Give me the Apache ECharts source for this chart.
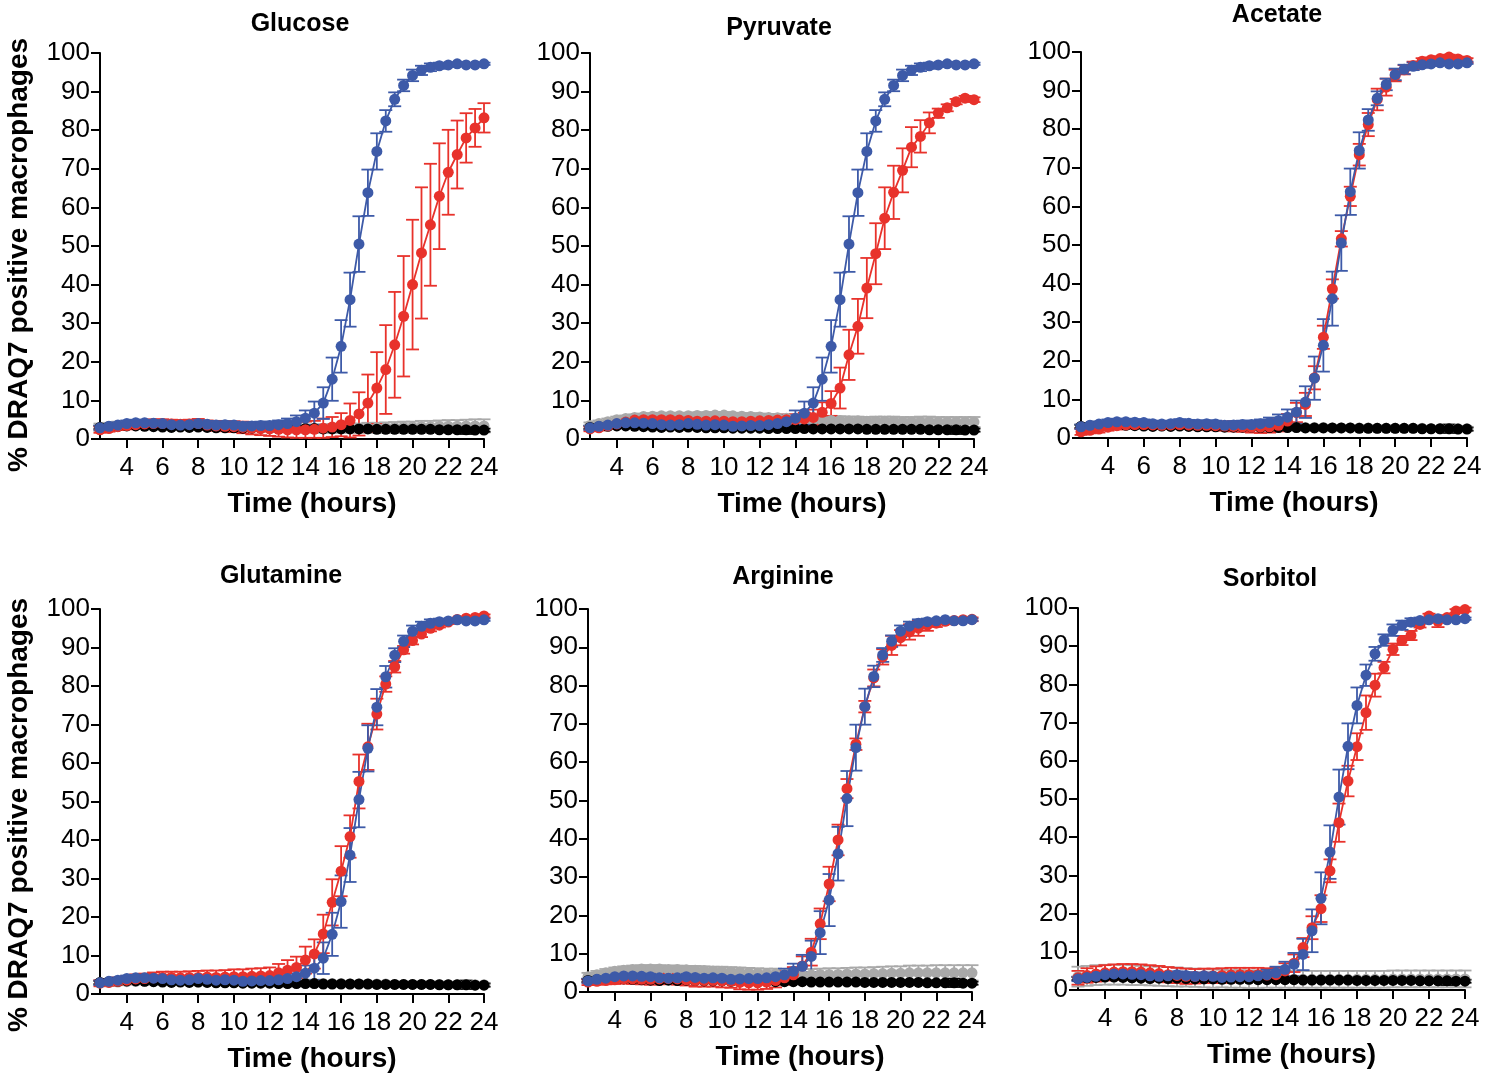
<!DOCTYPE html>
<html>
<head>
<meta charset="utf-8">
<script src="https://cdn.jsdelivr.net/npm/echarts@6/dist/echarts.min.js"></script>
<style>
html,body{margin:0;padding:0;background:#fff;}
#chart{width:1497px;height:1075px;}
</style>
</head>
<body>
<div id="chart"></div>
<script>
// ---------- DATA ----------
const TIMES = [2.5,3,3.5,4,4.5,5,5.5,6,6.5,7,7.5,8,8.5,9,9.5,10,10.5,11,11.5,12,12.5,13,13.5,14,14.5,15,15.5,16,16.5,17,17.5,18,18.5,19,19.5,20,20.5,21,21.5,22,22.5,23,23.5,24];
const X_TICKS = [4,6,8,10,12,14,16,18,20,22,24];
const PANEL_TITLES = ['Glucose','Pyruvate','Acetate','Glutamine','Arginine','Sorbitol'];

// shared controls (blue = with bacteria, black = uninfected)
const blueVals = [2.9,3.3,3.6,4.0,4.2,4.2,4.1,4.0,3.7,3.6,3.7,4.0,3.8,3.6,3.7,3.6,3.3,3.4,3.5,3.5,3.7,4.0,4.5,5.4,6.7,9.3,15.5,24.0,36.1,50.5,63.8,74.5,82.4,88.0,91.6,94.2,95.5,96.3,96.7,96.9,97.2,96.9,96.9,97.2];
const blueErr  = [0.6,0.6,0.7,0.8,0.8,0.8,0.8,0.8,0.8,0.8,0.8,0.9,0.9,0.9,0.9,0.9,0.9,1.0,1.0,1.0,1.1,1.3,1.6,2.0,3.0,4.1,5.6,6.8,7.0,7.2,6.0,4.7,2.8,1.8,1.5,1.5,1.2,1.0,0.8,0.5,0.4,0.3,0.3,0.3];
const blackVals = [3.0,3.2,3.3,3.4,3.4,3.3,3.2,3.1,3.0,3.1,3.0,3.1,3.0,2.9,2.9,2.9,2.8,2.8,2.8,2.8,2.7,2.7,2.7,2.7,2.7,2.6,2.6,2.6,2.6,2.6,2.6,2.5,2.5,2.5,2.5,2.5,2.5,2.5,2.4,2.4,2.4,2.4,2.3,2.3];
const blackErr  = [0.4,0.4,0.4,0.4,0.4,0.4,0.4,0.4,0.4,0.4,0.4,0.4,0.4,0.4,0.4,0.4,0.4,0.4,0.4,0.4,0.4,0.4,0.4,0.4,0.4,0.4,0.4,0.4,0.4,0.4,0.4,0.4,0.4,0.4,0.4,0.4,0.4,0.4,0.4,0.4,0.5,1.1,0.5,0.4];

// per-nutrient series (red = with nutrient, gray = nutrient uninfected)
const glucoseRed    = [2.4,2.7,3.2,3.5,3.7,3.9,4.0,4.0,3.9,3.8,3.9,4.0,3.6,3.4,3.3,3.2,3.0,2.8,2.7,2.6,2.5,2.4,2.4,2.4,2.5,2.8,3.1,3.7,4.8,6.5,9.3,13.2,18.0,24.4,31.8,40.0,48.2,55.5,62.9,69.1,73.7,78.0,80.6,83.2];
const glucoseRedErr = [0.8,0.8,0.9,1.0,1.0,1.0,1.1,1.1,1.1,1.1,1.1,1.2,1.2,1.3,1.3,1.4,1.5,1.6,1.7,1.8,1.9,2.0,2.1,2.1,2.2,2.5,2.6,3.0,4.4,5.6,7.4,9.3,11.5,13.7,15.6,16.8,17.0,15.8,13.7,11.0,8.8,6.4,4.9,3.8];
const glucoseGray    = [3.0,3.2,3.5,3.7,3.8,3.8,3.8,3.7,3.6,3.6,3.5,3.6,3.5,3.4,3.4,3.3,3.2,3.1,3.0,2.9,2.8,2.8,2.7,2.7,2.7,2.7,2.7,2.8,2.8,2.8,2.9,2.9,3.0,3.0,3.1,3.1,3.2,3.2,3.3,3.3,3.3,3.4,3.4,3.4];
const glucoseGrayErr = [1.0,1.0,1.0,1.0,1.0,1.0,1.0,1.0,1.0,1.0,1.0,1.0,1.0,1.0,1.0,1.0,1.0,1.0,1.0,1.0,1.0,1.0,1.0,1.0,1.0,1.1,1.1,1.2,1.2,1.2,1.3,1.3,1.3,1.4,1.4,1.4,1.5,1.5,1.5,1.6,1.6,1.6,1.7,1.7];

const pyruvateRed    = [2.6,2.9,3.4,3.9,4.4,4.9,5.0,5.0,5.0,5.0,4.9,4.8,4.6,4.6,4.7,4.6,4.5,4.5,4.6,4.7,4.8,4.9,5.0,5.0,5.2,5.6,6.9,9.2,13.2,21.8,29.2,39.1,48.0,57.2,63.9,69.6,75.6,78.4,81.9,84.4,85.8,87.4,88.3,87.9];
const pyruvateRedErr = [0.6,0.7,0.8,0.9,1.0,1.0,1.0,1.0,1.0,1.0,1.0,1.0,1.0,1.0,1.0,1.0,1.0,1.0,1.0,1.1,1.1,1.2,1.3,1.4,1.6,2.0,2.6,3.2,5.3,6.5,7.1,7.8,7.9,8.0,6.9,5.7,5.2,4.2,2.7,1.2,0.9,0.7,0.6,0.6];
const pyruvateGray    = [3.5,4.0,4.5,5.0,5.3,5.6,5.8,5.9,6.0,6.0,6.0,6.0,6.1,6.1,6.2,6.2,6.0,5.9,5.8,5.7,5.6,5.5,5.4,5.3,5.1,5.0,4.9,4.8,4.8,4.7,4.7,4.6,4.6,4.6,4.6,4.5,4.5,4.5,4.5,4.4,4.4,4.4,4.4,4.4];
const pyruvateGrayErr = [0.8,0.8,0.8,0.8,0.8,0.8,0.8,0.8,0.8,0.8,0.8,0.8,0.8,0.8,0.8,0.8,0.8,0.8,0.9,0.9,0.9,0.9,0.9,1.0,1.0,1.0,1.0,1.0,1.1,1.1,1.1,1.1,1.2,1.2,1.2,1.2,1.2,1.3,1.3,1.3,1.3,1.3,1.3,1.3];

const acetateRed    = [1.6,2.0,2.3,2.8,3.2,3.4,3.5,3.5,3.4,3.3,3.4,3.5,3.4,3.3,3.3,3.2,3.1,3.0,2.9,2.8,2.8,2.9,3.3,4.4,6.6,8.7,15.6,26.1,38.6,51.6,62.6,73.4,81.2,87.7,90.9,93.9,95.4,96.5,97.6,98.0,98.3,98.7,98.2,97.8];
const acetateRedErr = [0.8,0.8,0.9,0.9,1.0,1.0,1.0,1.0,1.0,1.0,1.0,1.0,1.1,1.1,1.1,1.2,1.2,1.3,1.3,1.4,1.5,1.5,1.6,1.8,2.5,3.0,3.0,3.0,2.5,2.0,2.5,2.8,3.0,2.8,2.2,1.5,1.2,1.0,0.8,0.6,0.6,0.6,0.6,0.6];
const acetateGray    = [3.0,3.1,3.2,3.3,3.4,3.4,3.4,3.3,3.3,3.2,3.2,3.2,3.1,3.1,3.1,3.0,3.0,3.0,2.9,2.9,2.9,2.8,2.8,2.8,2.7,2.7,2.7,2.7,2.6,2.6,2.6,2.6,2.6,2.5,2.5,2.5,2.5,2.5,2.5,2.4,2.4,2.4,2.4,2.4];
const acetateGrayErr = [0.5,0.5,0.5,0.5,0.5,0.5,0.5,0.5,0.5,0.5,0.5,0.5,0.5,0.5,0.5,0.5,0.5,0.5,0.5,0.5,0.5,0.5,0.5,0.5,0.5,0.5,0.5,0.5,0.5,0.5,0.5,0.5,0.5,0.5,0.5,0.5,0.5,0.5,0.5,0.5,0.5,0.5,0.5,0.5];

const glutamineRed    = [2.8,3.0,3.3,3.6,3.9,4.0,4.2,4.3,4.3,4.2,4.3,4.3,4.4,4.3,4.4,4.5,4.5,4.6,4.7,4.8,5.5,6.2,6.9,8.8,10.4,15.6,23.8,31.9,40.9,55.2,64.2,72.7,80.5,85.0,89.4,91.8,93.5,95.0,95.8,96.6,97.3,97.6,97.8,98.2];
const glutamineRedErr = [0.8,0.9,1.0,1.1,1.2,1.3,1.4,1.5,1.5,1.6,1.6,1.7,1.7,1.8,1.8,1.9,1.9,2.0,2.0,2.1,2.3,2.6,2.8,3.5,3.8,5.0,6.0,6.5,5.5,7.0,6.0,4.0,2.0,1.5,1.0,1.0,0.8,0.8,0.6,0.5,0.4,0.4,0.4,0.4];
const glutamineGray    = [2.9,3.0,3.1,3.2,3.3,3.3,3.3,3.3,3.2,3.2,3.2,3.1,3.1,3.1,3.0,3.0,3.0,2.9,2.9,2.9,2.8,2.8,2.8,2.8,2.7,2.7,2.7,2.7,2.6,2.6,2.6,2.6,2.6,2.5,2.5,2.5,2.5,2.5,2.5,2.4,2.4,2.4,2.4,2.4];
const glutamineGrayErr = [0.5,0.5,0.5,0.5,0.5,0.5,0.5,0.5,0.5,0.5,0.5,0.5,0.5,0.5,0.5,0.5,0.5,0.5,0.5,0.5,0.5,0.5,0.5,0.5,0.5,0.5,0.5,0.5,0.5,0.5,0.5,0.5,0.5,0.5,0.5,0.5,0.5,0.5,0.5,0.5,0.5,0.5,0.5,0.5];

const arginineRed    = [2.6,2.8,3.0,3.2,3.4,3.4,3.3,3.3,3.4,3.5,3.4,3.2,3.0,3.0,3.0,2.9,2.8,2.5,2.4,2.4,2.6,3.0,3.7,4.5,6.8,10.4,17.8,28.2,39.7,53.1,64.7,74.5,82.0,87.5,90.5,92.5,94.0,95.0,95.8,96.3,96.8,97.0,97.2,97.3];
const arginineRedErr = [0.8,0.9,1.0,1.1,1.2,1.3,1.3,1.4,1.4,1.4,1.5,1.5,1.6,1.6,1.6,1.7,1.7,1.8,1.8,1.8,1.8,1.8,1.8,2.0,2.5,3.5,4.0,4.5,4.0,2.5,1.5,1.5,2.2,2.0,2.5,2.0,2.0,2.0,1.5,1.0,0.8,0.6,0.5,0.5];
const arginineGray    = [4.0,4.5,5.0,5.4,5.7,5.9,6.0,6.0,6.0,5.9,5.9,5.8,5.7,5.6,5.5,5.4,5.3,5.2,5.0,4.9,4.8,4.7,4.6,4.5,4.5,4.5,4.6,4.6,4.6,4.7,4.7,4.7,4.8,4.8,4.9,4.9,5.0,5.0,5.0,5.0,5.0,5.0,5.0,5.0];
const arginineGrayErr = [1.0,1.0,1.0,1.0,1.0,1.0,1.0,1.0,1.0,1.0,1.0,1.0,1.1,1.1,1.1,1.2,1.2,1.2,1.3,1.3,1.3,1.4,1.4,1.4,1.5,1.5,1.5,1.6,1.6,1.6,1.7,1.7,1.7,1.8,1.8,1.8,1.9,1.9,1.9,2.0,2.0,2.0,2.0,2.0];

const sorbitolRed    = [3.2,3.8,4.2,4.5,4.7,4.8,4.8,4.7,4.5,4.3,4.0,3.8,3.6,3.6,3.7,3.7,3.8,3.9,4.0,4.0,4.0,3.9,4.0,5.0,7.0,11.1,16.3,21.3,31.2,43.8,54.7,63.7,72.6,79.8,84.4,89.2,91.5,92.8,95.7,97.9,96.5,97.5,99.2,99.6];
const sorbitolRedErr = [1.8,1.9,2.0,2.0,2.0,2.0,2.0,2.0,2.0,2.0,2.0,2.0,2.0,1.9,1.9,1.9,1.9,1.9,1.8,1.8,1.8,1.8,1.8,2.0,2.3,2.5,3.0,3.5,3.0,5.0,4.0,3.5,4.5,3.0,1.5,1.5,1.2,1.2,0.8,0.6,1.5,0.6,0.5,0.5];
const sorbitolGray    = [3.5,3.7,3.9,4.0,4.0,4.0,3.9,3.8,3.7,3.6,3.5,3.4,3.3,3.2,3.1,3.0,3.0,2.9,2.9,2.8,2.8,2.8,2.8,2.8,2.8,2.8,2.8,2.8,2.8,2.8,2.8,2.8,2.8,2.8,2.8,2.9,2.9,2.9,2.9,2.9,2.9,2.9,2.9,2.9];
const sorbitolGrayErr = [2.6,2.6,2.6,2.6,2.6,2.6,2.6,2.5,2.5,2.5,2.5,2.5,2.4,2.4,2.4,2.4,2.3,2.3,2.3,2.3,2.3,2.2,2.2,2.2,2.2,2.2,2.2,2.2,2.2,2.2,2.2,2.2,2.2,2.2,2.2,2.2,2.2,2.2,2.2,2.2,2.2,2.2,2.2,2.2];

// ---------- LAYOUT / STYLE ----------
const FONT = '"Liberation Sans", Arial, Helvetica, sans-serif';
const BLUE = '#3d5aa8', RED = '#e8322b', GRAY = '#a9a9a9', BLACK = '#000000';

const panels = [
  {title: PANEL_TITLES[0], red: glucoseRed,   redErr: glucoseRedErr,   gray: glucoseGray,   grayErr: glucoseGrayErr,   left: 100,  top: 53,  width: 384, height: 386, tx: 300,  ty: 12,  yName: true,  yPad: 18},
  {title: PANEL_TITLES[1], red: pyruvateRed,  redErr: pyruvateRedErr,  gray: pyruvateGray,  grayErr: pyruvateGrayErr,  left: 590,  top: 53,  width: 384, height: 386, tx: 779,  ty: 16,  yName: false},
  {title: PANEL_TITLES[2], red: acetateRed,   redErr: acetateRedErr,   gray: acetateGray,   grayErr: acetateGrayErr,   left: 1081, top: 52,  width: 386, height: 386, tx: 1277, ty: 3,   yName: false},
  {title: PANEL_TITLES[3], red: glutamineRed, redErr: glutamineRedErr, gray: glutamineGray, grayErr: glutamineGrayErr, left: 100,  top: 609, width: 384, height: 385, tx: 281,  ty: 564, yName: true,  yPad: 27},
  {title: PANEL_TITLES[4], red: arginineRed,  redErr: arginineRedErr,  gray: arginineGray,  grayErr: arginineGrayErr,  left: 588,  top: 609, width: 384, height: 383, tx: 783,  ty: 565, yName: false},
  {title: PANEL_TITLES[5], red: sorbitolRed,  redErr: sorbitolRedErr,  gray: sorbitolGray,  grayErr: sorbitolGrayErr,  left: 1078, top: 608, width: 387, height: 382, tx: 1270, ty: 567, yName: false}
];

function lineData(vals){ return TIMES.map((t,i)=>[t, vals[i]]); }
function errData(vals, errs){ return TIMES.map((t,i)=>[t, Math.max(0, vals[i]-errs[i]), vals[i]+errs[i]]); }

function errSeries(idx, vals, errs, color){
  return {
    type: 'custom', xAxisIndex: idx, yAxisIndex: idx, silent: true, animation: false, clip: false,
    data: errData(vals, errs),
    encode: {x: 0, y: [1, 2]},
    renderItem: function(params, api){
      const x = api.value(0), lo = api.value(1), hi = api.value(2);
      const p1 = api.coord([x, hi]), p2 = api.coord([x, lo]);
      const w = 6.5;
      const st = {stroke: color, lineWidth: 1.8, fill: null};
      return {type: 'group', children: [
        {type: 'line', shape: {x1: p1[0], y1: p1[1], x2: p2[0], y2: p2[1]}, style: st},
        {type: 'line', shape: {x1: p1[0]-w, y1: p1[1], x2: p1[0]+w, y2: p1[1]}, style: st},
        {type: 'line', shape: {x1: p2[0]-w, y1: p2[1], x2: p2[0]+w, y2: p2[1]}, style: st}
      ]};
    }
  };
}
function lineSeries(idx, vals, color, name){
  return {
    type: 'line', name: name, xAxisIndex: idx, yAxisIndex: idx, data: lineData(vals),
    symbol: 'circle', symbolSize: 11, showSymbol: true, animation: false, silent: true,
    itemStyle: {color: color}, lineStyle: {color: color, width: 1.8}
  };
}

const grids = [], xAxes = [], yAxes = [], series = [], titles = [];
panels.forEach((p, i) => {
  grids.push({left: p.left, top: p.top, width: p.width, height: p.height, containLabel: false, outerBoundsMode: 'none'});
  titles.push({text: p.title, left: p.tx, top: p.ty, textAlign: 'center', padding: 0,
    textStyle: {fontFamily: FONT, fontSize: 25, fontWeight: 'bold', color: '#000'}});
  xAxes.push({
    type: 'value', gridIndex: i, min: 2.5, max: 24,
    name: 'Time (hours)', nameLocation: 'middle', nameGap: 51,
    nameTextStyle: {fontFamily: FONT, fontSize: 28, fontWeight: 'bold', color: '#000', padding: [0, 0, 0, 40]},
    axisLine: {show: true, onZero: false, lineStyle: {color: '#000', width: 2}},
    axisTick: {show: true, length: 9, lineStyle: {color: '#000', width: 2}, customValues: X_TICKS},
    axisLabel: {fontFamily: FONT, fontSize: 26, color: '#000', margin: 16, customValues: X_TICKS},
    splitLine: {show: false}
  });
  yAxes.push({
    type: 'value', gridIndex: i, min: 0, max: 100, interval: 10,
    name: p.yName ? '% DRAQ7 positive macrophages' : '', nameLocation: 'middle', nameGap: 67,
    nameTextStyle: {fontFamily: FONT, fontSize: 28, fontWeight: 'bold', color: '#000', padding: [0, p.yPad || 0, 0, 0]},
    axisLine: {show: true, lineStyle: {color: '#000', width: 2}},
    axisTick: {show: true, length: 9, lineStyle: {color: '#000', width: 2}},
    axisLabel: {fontFamily: FONT, fontSize: 26, color: '#000', margin: 10},
    splitLine: {show: false}
  });
  series.push(errSeries(i, p.gray, p.grayErr, GRAY));
  series.push(lineSeries(i, p.gray, GRAY, 'Uninfected + ' + p.title));
  series.push(errSeries(i, blackVals, blackErr, BLACK));
  series.push(lineSeries(i, blackVals, BLACK, 'Uninfected'));
  series.push(errSeries(i, p.red, p.redErr, RED));
  series.push(lineSeries(i, p.red, RED, 'Infected + ' + p.title));
  series.push(errSeries(i, blueVals, blueErr, BLUE));
  series.push(lineSeries(i, blueVals, BLUE, 'Infected'));
});

const chart = echarts.init(document.getElementById('chart'), null, {renderer: 'canvas'});
chart.setOption({
  backgroundColor: '#fff',
  animation: false,
  textStyle: {fontFamily: FONT},
  title: titles,
  grid: grids,
  xAxis: xAxes,
  yAxis: yAxes,
  series: series
});
</script>
</body>
</html>
